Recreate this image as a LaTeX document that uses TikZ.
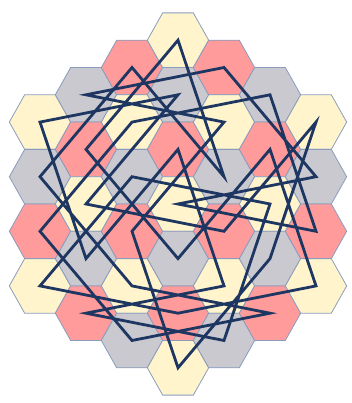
\documentclass[tikz,border=0pt]{standalone}
\usepackage{tikz}
\usetikzlibrary{calc}
\definecolor{hex0}{RGB}{255,244,204}
\definecolor{hex1}{RGB}{255,155,155}
\definecolor{hex2}{RGB}{201,201,207}
\definecolor{hexedge}{RGB}{138,156,190}
\definecolor{tourblue}{RGB}{30,54,98}

\begin{document}
\begin{tikzpicture}[x=1pt, y=-1pt,
    hexcell/.style={draw=hexedge, line width=0.8pt},
    tour/.style={draw=tourblue, line width=2.8pt, line join=miter}
]
    \useasboundingbox (0,0) rectangle (351,403);

    % cell centres: column letter, column offset, top row, number of cells
    \foreach \col/\c/\mtop/\n in {A/-3/-3/4, B/-2/-4/5, C/-1/-5/6, D/0/-6/7,
                                  E/1/-5/6, F/2/-4/5, G/3/-3/4}
        \foreach \k in {1,...,\n} {
            \pgfmathtruncatemacro\m{\mtop+2*(\k-1)}
            \pgfmathtruncatemacro\hc{Mod((3*\c-\m)/2,3)}
            \coordinate (\col\k) at ({178+46*\c},{204+27.3*\m});
            \draw[hexcell, fill=hex\hc] (\col\k) ++(-30.67,0) -- ++(15.33,-27.3)
                -- ++(30.67,0) -- ++(15.33,27.3) -- ++(-15.33,27.3)
                -- ++(-30.67,0) -- cycle;
        }

    % closed knight tour
    \draw[tour] (A2) -- (C1) -- (E3) -- (D1) -- (B2) -- (D5) -- (F2) -- (G4)
        -- (D6) -- (A4) -- (C3) -- (F3) -- (E6) -- (B5) -- (E5) -- (D3)
        -- (B4) -- (A1) -- (D2) -- (B3) -- (E4) -- (G1) -- (F4) -- (D7)
        -- (C4) -- (E2) -- (B1) -- (E1) -- (G2) -- (D4) -- (G3) -- (F1)
        -- (C2) -- (A3) -- (C6) -- (F5) -- (C5) -- cycle;
\end{tikzpicture}
\end{document}
